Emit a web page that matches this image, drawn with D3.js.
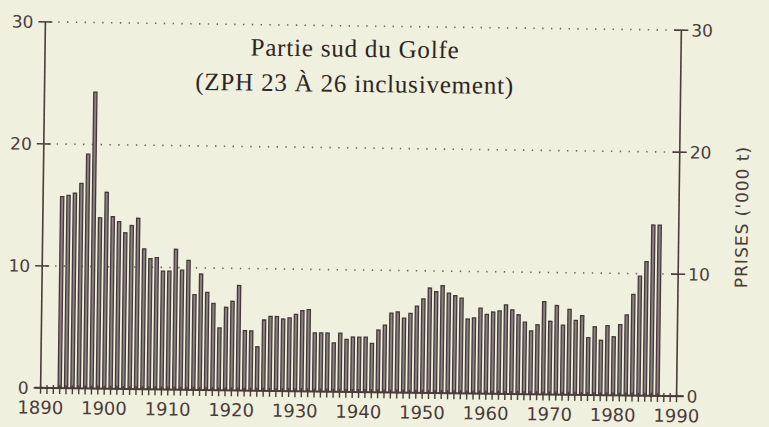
<!DOCTYPE html>
<html>
<head>
<meta charset="utf-8">
<script src="https://cdn.jsdelivr.net/npm/d3@7"></script>
<style>
  body { margin: 0; background: #eef0e0; }
  svg { display: block; }
</style>
</head>
<body>
<div id="viz"></div>
<script>

// catches, thousand tonnes, one bar per year from 1893
var firstYear = 1893;
var catches = [
	15.7, 15.8, 16.0, 16.8, 19.2, 24.3, 14.0, 16.1, 14.1, 13.7,
	12.8, 13.4, 14.0, 11.5, 10.7, 10.8, 9.7, 9.7, 11.5, 9.8,
	10.6, 7.8, 9.5, 8.0, 7.1, 5.1, 6.8, 7.3, 8.6, 4.9,
	4.9, 3.6, 5.8, 6.1, 6.1, 5.9, 6.0, 6.3, 6.6, 6.7,
	4.8, 4.8, 4.8, 4.0, 4.8, 4.3, 4.5, 4.5, 4.5, 4.0,
	5.1, 5.5, 6.5, 6.6, 6.1, 6.5, 7.1, 7.7, 8.6, 8.3,
	8.8, 8.2, 8.0, 7.8, 6.1, 6.2, 7.0, 6.5, 6.7, 6.8,
	7.3, 6.9, 6.5, 5.9, 5.2, 5.7, 7.6, 6.0, 7.3, 5.7,
	7.0, 6.1, 6.5, 4.7, 5.6, 4.5, 5.7, 4.8, 5.8, 6.6,
	8.3, 9.8, 11.0, 14.0, 14.0
];
var years = catches.map((d,i)=>firstYear + i);

var yTicks = [0, 10, 20, 30];
var decadeTicks = [1890, 1900, 1910, 1920, 1930, 1940, 1950, 1960, 1970, 1980, 1990];
var titleLines = ["Partie sud du Golfe", "(ZPH 23 À 26 inclusivement)"];
var yLabel = "PRISES ('000 t)";

var width = 769;
var height = 427;
var ink = "#4a3c3a";

var svg = d3.select("#viz")
	.append("svg")
	.attr("width",width)
	.attr("height",height);

svg.append("rect")
	.attr("width",width)
	.attr("height",height)
	.attr("fill","#eff0de");

// the scanned page is a little tilted
var g = svg.append("g")
	.attr("transform","rotate(0.75,360,208)");

var x = d3.scaleLinear().domain([1890,1990]).range([43,679]);
var y = d3.scaleLinear().domain([0,30]).range([392,26]);

// dotted grid
g.selectAll("line.grid")
	.data(yTicks.filter(d=>d>0))
	.enter()
	.append("line")
	.attr("class","grid")
	.attr("x1",x(1890)+4)
	.attr("x2",x(1990))
	.attr("y1",d=>y(d))
	.attr("y2",d=>y(d))
	.attr("stroke","#6f6260")
	.attr("stroke-width",1.6)
	.attr("stroke-dasharray","1.4 7.4");

// bars
g.selectAll("rect.bar")
	.data(catches)
	.enter()
	.append("rect")
	.attr("class","bar")
	.attr("x",(d,i)=>x(years[i])-1.6)
	.attr("width",3.2)
	.attr("y",d=>y(d))
	.attr("height",d=>y(0)-y(d))
	.attr("fill","#8a837f")
	.attr("stroke","#46383a")
	.attr("stroke-width",1.3);

// year ticks
g.selectAll("line.yr")
	.data(d3.range(1890,1991))
	.enter()
	.append("line")
	.attr("class","yr")
	.attr("x1",d=>x(d))
	.attr("x2",d=>x(d))
	.attr("y1",y(0)-3)
	.attr("y2",y(0)+6)
	.attr("stroke",ink)
	.attr("stroke-width",1.4);

// axis lines
g.append("line")
	.attr("x1",x(1890)-6).attr("x2",x(1990)+7)
	.attr("y1",y(0)).attr("y2",y(0))
	.attr("stroke",ink).attr("stroke-width",2);

[x(1890), x(1990)].forEach(px=>{
	g.append("line")
		.attr("x1",px).attr("x2",px)
		.attr("y1",y(0)).attr("y2",y(30))
		.attr("stroke",ink).attr("stroke-width",1.6);
	g.selectAll(null)
		.data(yTicks)
		.enter()
		.append("line")
		.attr("x1",px-7).attr("x2",px+7)
		.attr("y1",d=>y(d)).attr("y2",d=>y(d))
		.attr("stroke",ink).attr("stroke-width",1.6);
});

// left and right tick labels
g.selectAll("text.yl")
	.data(yTicks)
	.enter()
	.append("text")
	.attr("class","yl")
	.attr("x",x(1890)-12)
	.attr("y",d=>y(d))
	.attr("dy","0.36em")
	.attr("text-anchor","end")
	.attr("font-family","DejaVu Sans")
	.attr("font-size",17)
	.attr("fill",ink)
	.text(d=>d);

g.selectAll("text.yr")
	.data(yTicks)
	.enter()
	.append("text")
	.attr("class","yr")
	.attr("x",x(1990)+10)
	.attr("y",d=>y(d))
	.attr("dy","0.36em")
	.attr("font-family","DejaVu Sans")
	.attr("font-size",17)
	.attr("fill",ink)
	.text(d=>d);

g.selectAll("text.xl")
	.data(decadeTicks)
	.enter()
	.append("text")
	.attr("class","xl")
	.attr("x",d=>x(d))
	.attr("y",y(0)+26)
	.attr("text-anchor","middle")
	.attr("font-family","DejaVu Sans")
	.attr("font-size",18)
	.attr("fill",ink)
	.text(d=>d);

// axis title on the right
g.append("text")
	.attr("transform","translate(748,212) rotate(-90)")
	.attr("text-anchor","middle")
	.attr("font-family","DejaVu Sans")
	.attr("font-size",17)
	.attr("letter-spacing",1)
	.attr("fill",ink)
	.text(yLabel);

// chart title
g.selectAll("text.title")
	.data(titleLines)
	.enter()
	.append("text")
	.attr("class","title")
	.attr("x",353)
	.attr("y",(d,i)=>57 + i*35)
	.attr("text-anchor","middle")
	.attr("font-family","Liberation Serif")
	.attr("font-size",25)
	.attr("letter-spacing",0.8)
	.attr("fill","#2e2624")
	.text(d=>d);

</script>
</body>
</html>
